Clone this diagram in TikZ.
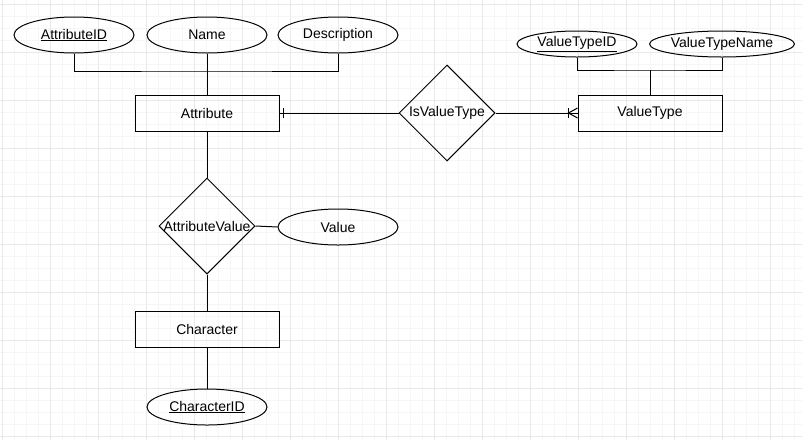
\documentclass[tikz,border=0pt]{standalone}
\usepackage{fontspec}
\setmainfont{Liberation Sans}
\usepackage{tikz}
\usetikzlibrary{shapes.geometric}
\definecolor{minorgray}{HTML}{F6F6F6}
\definecolor{majorgray}{HTML}{E9E9E9}
\tikzset{
  entity/.style   = {draw,line width=1pt,minimum width=144pt,minimum height=36pt,inner sep=0pt},
  attrib/.style   = {draw,ellipse,line width=1pt,minimum width=120pt,minimum height=36pt,inner sep=0pt},
  relation/.style = {draw,diamond,line width=1pt,minimum width=96pt,minimum height=96pt,inner sep=0pt},
  link/.style     = {line width=1pt},
  minorgrid/.style = {minorgray,line width=1pt},
  majorgrid/.style = {majorgray,line width=1pt}
}
\newcommand{\keyattr}[1]{\underline{#1}}

\begin{document}
\begin{tikzpicture}[x=1pt,y=-1pt,font=\fontsize{14}{16}\selectfont]
  \useasboundingbox (0,0) rectangle (802,440);
  \fill[white] (0,0) rectangle (802,440);
  % background grid
  \foreach \gx in {2,14,...,800} \draw[minorgrid] (\gx,0) -- (\gx,440);
  \foreach \gy in {4,16,...,440} \draw[minorgrid] (0,\gy) -- (802,\gy);
  \foreach \gx in {2,50,...,800} \draw[majorgrid] (\gx,0) -- (\gx,440);
  \foreach \gy in {4,52,...,440} \draw[majorgrid] (0,\gy) -- (802,\gy);

  % entities
  \node[entity] (attribute) at (207,113) {Attribute};
  \node[entity] (vtype)     at (650,113) {ValueType};
  \node[entity] (character) at (207,329) {Character};

  % attributes
  \node[attrib] (attrid) at (74,35)  {\keyattr{AttributeID}};
  \node[attrib] (name)   at (207,35) {Name};
  \node[attrib] (desc)   at (338,35) {Description};
  \node[attrib,minimum height=26pt] (vtid)   at (577,44) {\keyattr{ValueTypeID}};
  \node[attrib,minimum height=26pt] (vtname) at (722,44) {ValueTypeName};
  \node[attrib] (value)  at (338,227) {Value};
  \node[attrib] (charid) at (207,407) {\keyattr{CharacterID}};

  % relationships
  \node[relation,label=center:IsValueType]    (isvt)    at (447,113) {};
  \node[relation,label=center:AttributeValue] (attrval) at (207,226) {};

  % connectors
  \coordinate (attrjoin) at (207,71);
  \coordinate (vtjoin) at (650,70);
  \draw[link] (attrid.south) |- (attrjoin) -| (desc.south);
  \draw[link] (name.south) -- (attribute.north);
  \draw[link] (vtid.south) |- (vtjoin) -| (vtname.south);
  \draw[link] (vtjoin) -- (vtype.north);
  \draw[link] (attribute.east) -- (isvt.west);
  \draw[link] (isvt.east) -- (vtype.west);
  \draw[link] (attribute.south) -- (attrval.north);
  \draw[link] (attrval.east) -- (value.west);
  \draw[link] (attrval.south) -- (character.north);
  \draw[link] (character.south) -- (charid.north);

  % cardinality marks
  \draw[link] ([xshift=4pt,yshift=-5pt]attribute.east) -- ([xshift=4pt,yshift=5pt]attribute.east);
  \draw[link] ([xshift=-9pt,yshift=-5pt]vtype.west) -- ([xshift=-9pt,yshift=5pt]vtype.west);
  \draw[link] ([yshift=-5pt]vtype.west) -- ([xshift=-9pt]vtype.west) -- ([yshift=5pt]vtype.west);
\end{tikzpicture}
\end{document}
